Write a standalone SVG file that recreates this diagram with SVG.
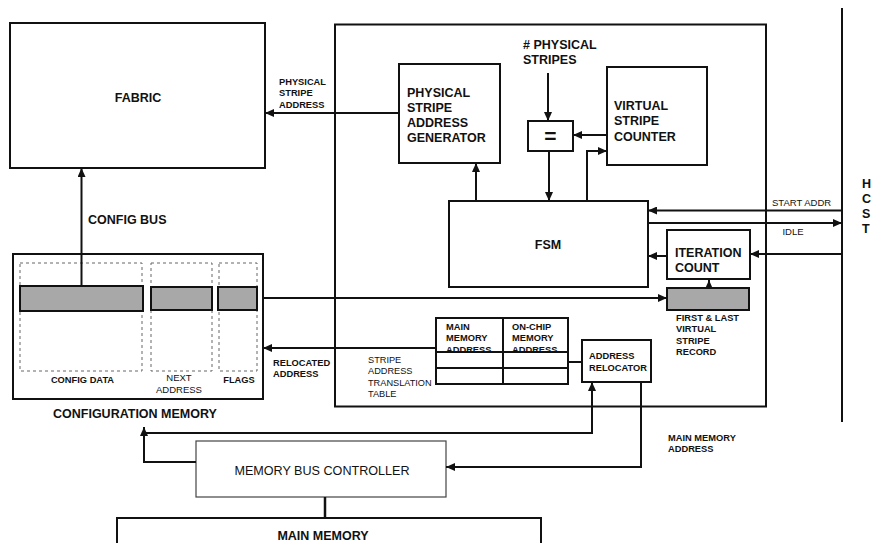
<svg xmlns="http://www.w3.org/2000/svg" width="873" height="543" viewBox="0 0 873 543">
<defs>
<marker id="ah" viewBox="0 0 9 8" refX="9" refY="4" markerWidth="9" markerHeight="8" markerUnits="userSpaceOnUse" orient="auto"><path d="M0,0 L9,4 L0,8 z" fill="#111"/></marker>
<marker id="ahs" viewBox="0 0 8 7" refX="8" refY="3.5" markerWidth="7" markerHeight="7" markerUnits="userSpaceOnUse" orient="auto"><path d="M0,0 L8,3.5 L0,7 z" fill="#111"/></marker>
</defs>
<style>
.box{fill:#fff;stroke:#111;stroke-width:2}
.thin{fill:#fff;stroke:#444;stroke-width:1.2}
.dash{fill:none;stroke:#666;stroke-width:1;stroke-dasharray:3,3}
.gray{fill:#a8a8a8;stroke:#111;stroke-width:2}
.ln{fill:none;stroke:#111;stroke-width:2}
.arr{fill:none;stroke:#111;stroke-width:2;marker-end:url(#ah)}
.big{font-family:"Liberation Sans",Arial,sans-serif;font-weight:bold;font-size:12.5px;fill:#111}
.sm{font-family:"Liberation Sans",Arial,sans-serif;font-weight:bold;font-size:9.3px;fill:#111}
.smr{font-family:"Liberation Sans",Arial,sans-serif;font-size:9.5px;fill:#111}
.reg{font-family:"Liberation Sans",Arial,sans-serif;font-size:12.6px;fill:#111}
.mid{text-anchor:middle}
</style>
<rect width="873" height="543" fill="#fff"/>

<g id="fabric">
<rect class="box" x="10" y="23" width="255" height="145"/>
<text class="big mid" x="138" y="101.5">FABRIC</text>
</g>

<g id="controller">
<rect class="box" x="335" y="24.5" width="431" height="382"/>
</g>

<g id="psag">
<rect class="box" x="399" y="64" width="101" height="99"/>
<text class="big" x="407" y="96.5">PHYSICAL</text>
<text class="big" x="407" y="111.5">STRIPE</text>
<text class="big" x="407" y="126.5">ADDRESS</text>
<text class="big" x="407" y="141.5">GENERATOR</text>
</g>

<g id="num-stripes">
<text class="big" x="523" y="48.5"># PHYSICAL</text>
<text class="big" x="523" y="63.5">STRIPES</text>
</g>

<g id="comparator">
<rect class="box" x="528" y="121" width="45" height="30"/>
<text class="big mid" x="550.5" y="143" style="font-size:21px">=</text>
</g>

<g id="vsc">
<rect class="box" x="607" y="67" width="100" height="98"/>
<text class="big" x="614" y="110">VIRTUAL</text>
<text class="big" x="614" y="125">STRIPE</text>
<text class="big" x="614" y="140.5">COUNTER</text>
</g>

<g id="fsm">
<rect class="box" x="449" y="201" width="199" height="86"/>
<text class="big mid" x="548" y="248.5">FSM</text>
</g>

<g id="iteration">
<rect class="box" x="667" y="230" width="83" height="49"/>
<text class="big" x="675" y="256.5">ITERATION</text>
<text class="big" x="675" y="271.5">COUNT</text>
</g>

<g id="record">
<rect class="gray" x="667" y="288" width="82" height="22"/>
<text class="sm" x="676" y="320.5">FIRST &amp; LAST</text>
<text class="sm" x="676" y="332">VIRTUAL</text>
<text class="sm" x="676" y="343.5">STRIPE</text>
<text class="sm" x="676" y="355">RECORD</text>
</g>

<g id="table">
<rect class="box" x="436" y="318" width="132" height="66"/>
<path class="ln" d="M503,318 V384 M436,352 H568 M436,368 H568"/>
<text class="sm" x="446" y="329.5">MAIN</text>
<text class="sm" x="446" y="341">MEMORY</text>
<text class="sm" x="446" y="352.5">ADDRESS</text>
<text class="sm" x="512" y="329.5">ON-CHIP</text>
<text class="sm" x="512" y="341">MEMORY</text>
<text class="sm" x="512" y="352.5">ADDRESS</text>
<text class="smr" x="368" y="362.5" style="font-size:9.2px">STRIPE</text>
<text class="smr" x="368" y="374" style="font-size:9.2px">ADDRESS</text>
<text class="smr" x="368" y="385.5" style="font-size:9.2px">TRANSLATION</text>
<text class="smr" x="368" y="397" style="font-size:9.2px">TABLE</text>
</g>

<g id="relocator">
<rect class="box" x="582" y="340" width="69" height="42"/>
<text class="sm" x="589" y="358.5">ADDRESS</text>
<text class="sm" x="589" y="370.5">RELOCATOR</text>
</g>

<g id="config-memory">
<rect class="box" x="13" y="254" width="250" height="145"/>
<rect class="dash" x="20" y="263" width="122" height="108"/>
<rect class="dash" x="151" y="263" width="61" height="108"/>
<rect class="dash" x="219" y="263" width="38" height="108"/>
<rect class="gray" x="20" y="286" width="123" height="25"/>
<rect class="gray" x="151" y="287" width="61" height="23"/>
<rect class="gray" x="218" y="287" width="39" height="23"/>
<text class="sm mid" x="82.5" y="382.5">CONFIG DATA</text>
<text class="smr mid" x="179" y="380.5">NEXT</text>
<text class="smr mid" x="179" y="392.5">ADDRESS</text>
<text class="sm mid" x="239" y="382.5">FLAGS</text>
<text class="big" x="53" y="417.5">CONFIGURATION MEMORY</text>
</g>

<g id="mbc">
<rect class="thin" x="196" y="441" width="250" height="56"/>
<text class="reg mid" x="322" y="474.5">MEMORY BUS CONTROLLER</text>
</g>

<g id="main-memory">
<path class="ln" d="M117,545 V518 H541 V545"/>
<text class="big mid" x="323" y="539.5">MAIN MEMORY</text>
</g>

<g id="host">
<path class="ln" d="M842,8 V422"/>
<text class="big" x="862" y="188">H</text>
<text class="big" x="862" y="203">C</text>
<text class="big" x="862" y="217.5">S</text>
<text class="big" x="862" y="233">T</text>
</g>

<g id="connectors">
<path class="arr" d="M399,113 H265"/>
<path class="arr" d="M81.5,286 V168"/>
<path class="arr" d="M548,73 V121"/>
<path class="arr" d="M607,135 H573"/>
<path class="arr" d="M549,151 V201"/>
<path class="arr" d="M476,201 V163"/>
<path class="arr" d="M587,201 V151 H607"/>
<path class="arr" d="M842,210.5 H648"/>
<path class="arr" d="M648,223 H842"/>
<path class="arr" d="M842,254 H750"/>
<path class="arr" d="M667,256 H648"/>
<path class="ln" d="M709,288 V280" style="marker-end:url(#ahs)"/>
<path class="arr" d="M263,298 H667"/>
<path class="arr" d="M436,348 H263"/>
<path class="ln" d="M568,362 H582"/>
<path class="arr" d="M196,462 H144 V427"/>
<path class="arr" d="M144,433 H592 V382"/>
<path class="arr" d="M641,382 V467 H446"/>
<path class="ln" d="M325,497 V518" style="stroke-width:2.5"/>
</g>

<g id="labels">
<text class="sm" x="279" y="84.5">PHYSICAL</text>
<text class="sm" x="279" y="96">STRIPE</text>
<text class="sm" x="279" y="107.5">ADDRESS</text>
<text class="big" x="88" y="223.5">CONFIG BUS</text>
<text class="smr" x="772" y="205.5">START ADDR</text>
<text class="smr mid" x="793" y="234.5">IDLE</text>
<text class="sm" x="273" y="365.5">RELOCATED</text>
<text class="sm" x="273" y="377">ADDRESS</text>
<text class="sm" x="668" y="440.5">MAIN MEMORY</text>
<text class="sm" x="668" y="452">ADDRESS</text>
</g>
</svg>
